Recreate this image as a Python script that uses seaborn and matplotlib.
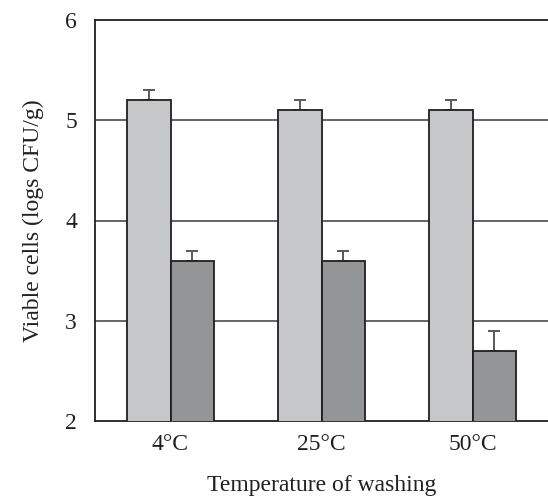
import matplotlib
matplotlib.use("Agg")
import matplotlib.pyplot as plt
import seaborn as sns
import pandas as pd
import numpy as np
from matplotlib.ticker import FixedLocator

categories = ["4°C", "25°C", "50°C"]
series = ["Control", "Washed"]
light_values = [5.2, 5.1, 5.1]
dark_values = [3.6, 3.6, 2.7]
light_err = [0.1, 0.1, 0.1]
dark_err = [0.1, 0.1, 0.2]
yticks = [2, 3, 4, 5, 6]

sns.set_style("white")
plt.rcParams['font.family'] = ['Liberation Serif', 'DejaVu Serif']

df = pd.DataFrame({
    "cat": categories * 2,
    "series": [series[0]] * 3 + [series[1]] * 3,
    "val": light_values + dark_values,
    "err": light_err + dark_err,
})

fig = plt.figure(figsize=(5.48, 4.97), dpi=100)
ax = fig.add_axes([95/548, 76/497, 453/548, 401/497])

sns.barplot(data=df, x="cat", y="val", hue="series", order=categories,
            hue_order=series, palette=["#c6c7c9", "#939598"],
            edgecolor="#231f20", linewidth=1.3, width=0.58,
            errorbar=None, legend=False, ax=ax, zorder=3)

# error bars (upward only) at bar centres from the drawn patches
bars = [p for p in ax.patches]
errs = light_err + dark_err
vals = light_values + dark_values
for p, v, e in zip(bars, vals, errs):
    xc = p.get_x() + p.get_width() / 2
    ax.errorbar([xc], [v], yerr=[[0], [e]], fmt="none", ecolor="#58595b",
                elinewidth=1.4, capsize=4, capthick=1.4, zorder=2)

ax.set_ylim(2, 6)
ax.set_xlim(-0.5, 2.5)
ax.set_yticks(yticks)
ax.set_yticklabels([str(t) for t in yticks])
for y in [3, 4, 5]:
    ax.axhline(y, color="#58595b", linewidth=1.3, zorder=1)

ax.tick_params(axis="y", length=0, labelsize=17, colors="#231f20", pad=13)
ax.tick_params(axis="x", which="major", length=0, labelsize=17, colors="#231f20", pad=9)
ax.xaxis.set_minor_locator(FixedLocator([0.5, 1.5]))
ax.tick_params(axis="x", which="minor", direction="in", length=5, width=1.3, color="#231f20")

for s in ["left", "top", "bottom"]:
    ax.spines[s].set_color("#231f20")
    ax.spines[s].set_linewidth(1.3)
ax.spines["right"].set_visible(False)

ax.set_xlabel("Temperature of washing", fontsize=17, color="#231f20", labelpad=15)
ax.set_ylabel("Viable cells (logs CFU/g)", fontsize=17, color="#231f20", labelpad=15)

fig.savefig("out.png", dpi=100)
